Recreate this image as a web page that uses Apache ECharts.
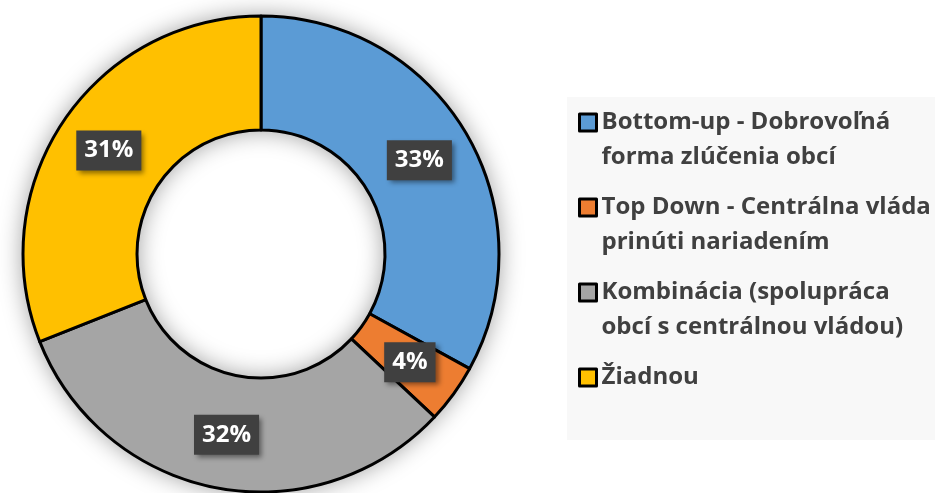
<!DOCTYPE html>
<html>
<head>
<meta charset="utf-8">
<script src="https://cdn.jsdelivr.net/npm/echarts@6/dist/echarts.min.js"></script>
<style>
  html, body { margin: 0; padding: 0; background: #fff; }
  #chart { width: 935px; height: 493px; }
</style>
</head>
<body>
<div id="chart"></div>
<script>
// kategórie a hodnoty (percentá)
const categories = [
  'Bottom-up - Dobrovoľná\nforma zlúčenia obcí',
  'Top Down - Centrálna vláda\nprinúti nariadením',
  'Kombinácia (spolupráca\nobcí s centrálnou vládou)',
  'Žiadnou'
]
const values = [33, 4, 32, 31]
const colors = ['#5B9BD5', '#ED7D31', '#A5A5A5', '#FFC000']

const myChart = echarts.init(document.getElementById('chart'))

const pieData = categories.map((name, i) => ({
  name: name,
  value: values[i],
  itemStyle: { color: colors[i] }
}))

const option = {
  animation: false,
  color: colors,
  graphic: [
    {
      type: 'rect',
      left: 567,
      top: 97,
      z: -10,
      shape: { width: 380, height: 343 },
      style: { fill: '#f8f8f8' }
    }
  ],
  legend: {
    orient: 'vertical',
    left: 578,
    top: 70,
    padding: 0,
    itemGap: -20,
    itemWidth: 17,
    itemHeight: 17,
    icon: 'rect',
    itemStyle: { borderColor: '#000', borderWidth: 3 },
    data: categories,
    formatter: function (name) {
      // prázdny riadok navrchu, aby ikona sedela pri prvom riadku textu
      return name.indexOf('\n') < 0 ? ' \n' + name + '\n ' : ' \n' + name
    },
    textStyle: {
      fontFamily: 'Open Sans',
      fontWeight: 'bold',
      fontSize: 24,
      lineHeight: 35,
      color: '#404040'
    }
  },
  series: [
    {
      // tieň pod prstencom
      type: 'pie',
      silent: true,
      center: [261, 254],
      radius: [124, 238],
      z: 1,
      label: { show: false },
      labelLine: { show: false },
      itemStyle: {
        color: '#fff',
        shadowBlur: 24,
        shadowColor: 'rgba(0,0,0,0.4)'
      },
      data: [{ value: 1, name: '' }]
    },
    {
      type: 'pie',
      center: [261, 254],
      radius: [124, 238],
      startAngle: 90,
      clockwise: true,
      z: 2,
      itemStyle: {
        borderColor: '#000',
        borderWidth: 3
      },
      label: {
        show: true,
        position: 'inside',
        formatter: '{c}%',
        fontFamily: 'Open Sans',
        fontWeight: 'bold',
        fontSize: 24,
        lineHeight: 28,
        color: '#fff',
        backgroundColor: '#404040',
        padding: [6, 8, 6, 8],
        shadowBlur: 5,
        shadowOffsetX: 3,
        shadowOffsetY: 3,
        shadowColor: 'rgba(0,0,0,0.45)'
      },
      labelLine: { show: false },
      emphasis: { disabled: true },
      data: pieData
    }
  ]
}

myChart.setOption(option)
</script>
</body>
</html>
